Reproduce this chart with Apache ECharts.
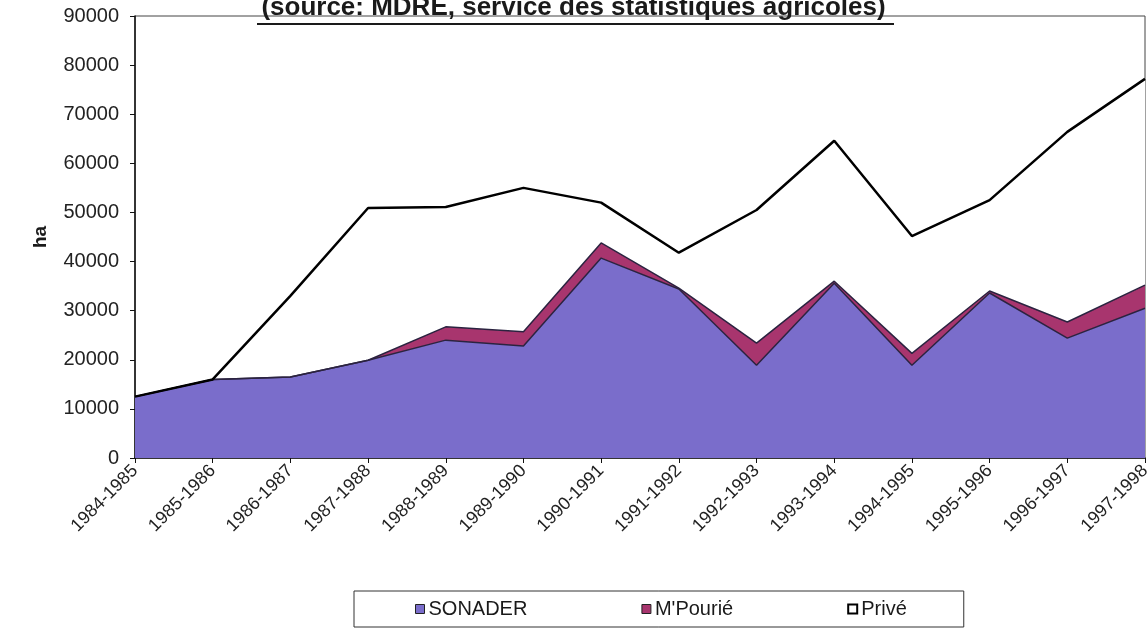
<!DOCTYPE html>
<html>
<head>
<meta charset="utf-8">
<script src="https://cdn.jsdelivr.net/npm/echarts@6/dist/echarts.min.js"></script>
<style>
  html, body { margin: 0; padding: 0; background: #fff; }
  #chart { width: 1147px; height: 629px; }
</style>
</head>
<body>
<div id="chart"></div>
<script>
const categories = ['1984-1985', '1985-1986', '1986-1987', '1987-1988', '1988-1989', '1989-1990', '1990-1991',
  '1991-1992', '1992-1993', '1993-1994', '1994-1995', '1995-1996', '1996-1997', '1997-1998'];

// surfaces (ha), stacked
const sonader = [12500, 16000, 16500, 19900, 24000, 22800, 40700, 34400, 18900, 35600, 18900, 33600, 24400, 30500];
const mpourie = [0, 0, 0, 0, 2700, 2900, 3100, 200, 4500, 400, 2400, 400, 3300, 4700];
const prive = [0, 0, 16500, 31000, 24400, 29300, 8200, 7200, 27100, 28600, 23900, 18500, 38700, 42000];

const yTicks = { min: 0, max: 90000, interval: 10000 };

const titleText = '(source: MDRE, service des statistiques agricoles)';

const font = 'Liberation Sans, Arial, sans-serif';
const purple = '#7a6dcb';
const magenta = '#a8356e';
const outline = '#2b2340';

const chart = echarts.init(document.getElementById('chart'));

const option = {
  animation: false,
  backgroundColor: '#fff',
  title: {
    text: titleText,
    left: 'center',
    top: -5,
    padding: 0,
    textStyle: {
      fontFamily: font,
      fontSize: 26,
      fontWeight: 'bold',
      color: '#1a1a1a'
    }
  },
  graphic: [
    {
      // underline of the title
      type: 'line',
      shape: { x1: 257, y1: 24, x2: 894, y2: 24 },
      style: { stroke: '#1a1a1a', lineWidth: 2 },
      z: 10
    }
  ],
  legend: {
    left: 354,
    top: 591,
    padding: [8, 57, 8, 61],
    borderColor: '#333',
    borderWidth: 1,
    itemGap: 114,
    itemWidth: 9,
    itemHeight: 9,
    icon: 'rect',
    textStyle: { fontFamily: font, fontSize: 20, color: '#1a1a1a', padding: [0, 0, 0, -1] },
    data: [
      { name: 'SONADER', itemStyle: { color: purple, borderColor: '#222', borderWidth: 1 } },
      { name: 'M\'Pourié', itemStyle: { color: magenta, borderColor: '#222', borderWidth: 1 } },
      { name: 'Privé', itemStyle: { color: '#fff', borderColor: '#000', borderWidth: 2 } }
    ]
  },
  grid: {
    left: 135,
    right: 2,
    top: 16,
    bottom: 171,
    outerBoundsMode: 'none',
    show: true,
    borderColor: '#444',
    borderWidth: 1
  },
  xAxis: {
    type: 'category',
    data: categories,
    boundaryGap: false,
    axisLine: { lineStyle: { color: '#111', width: 1.5 } },
    axisTick: { show: true, length: 5, lineStyle: { color: '#111' } },
    axisLabel: {
      rotate: 45,
      margin: 10,
      interval: 0,
      fontFamily: font,
      fontSize: 18,
      color: '#222'
    }
  },
  yAxis: {
    type: 'value',
    min: yTicks.min,
    max: yTicks.max,
    interval: yTicks.interval,
    name: 'ha',
    nameLocation: 'middle',
    nameGap: 85,
    nameTextStyle: { fontFamily: font, fontSize: 19, fontWeight: 'bold', color: '#1a1a1a' },
    axisLine: { show: true, lineStyle: { color: '#111', width: 1.5 } },
    axisTick: { show: true, length: 5, lineStyle: { color: '#111' } },
    splitLine: { show: false },
    axisLabel: {
      margin: 16,
      fontFamily: font,
      fontSize: 20,
      color: '#222',
      formatter: (v) => String(v)
    }
  },
  series: [
    {
      name: 'SONADER',
      type: 'line',
      stack: 'surface',
      data: sonader,
      symbol: 'none',
      color: purple,
      lineStyle: { color: outline, width: 1.5 },
      areaStyle: { color: purple, opacity: 1 }
    },
    {
      name: 'M\'Pourié',
      type: 'line',
      stack: 'surface',
      data: mpourie,
      symbol: 'none',
      color: magenta,
      lineStyle: { color: outline, width: 1.5 },
      areaStyle: { color: magenta, opacity: 1 }
    },
    {
      name: 'Privé',
      type: 'line',
      stack: 'surface',
      data: prive,
      symbol: 'none',
      color: '#000',
      lineStyle: { color: '#000', width: 2.5 },
      areaStyle: { color: '#fff', opacity: 1 }
    }
  ]
};

chart.setOption(option);
</script>
</body>
</html>
